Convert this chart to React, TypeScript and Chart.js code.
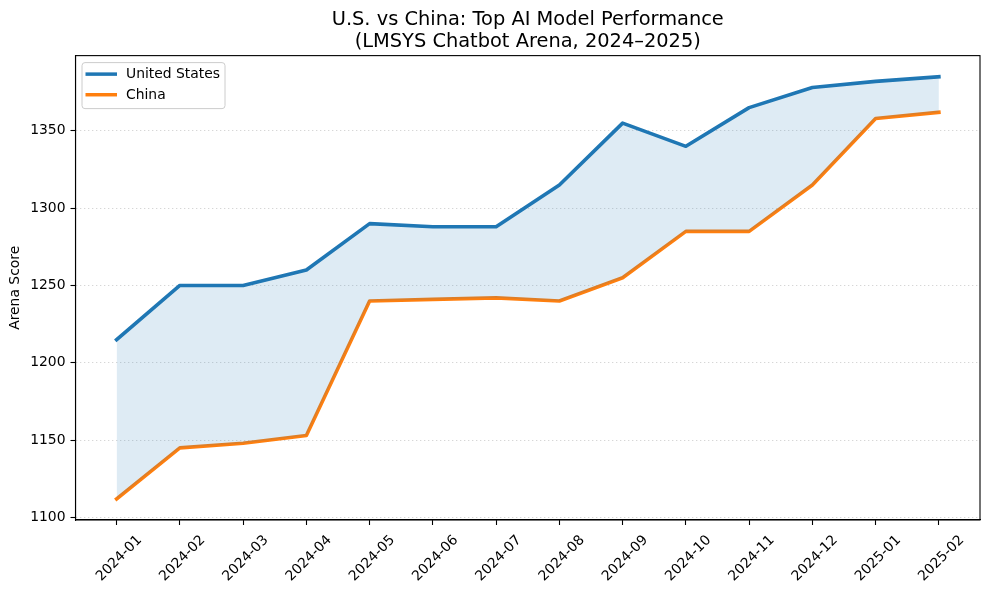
import React, { useEffect, useRef } from "react";
import { Chart, registerables } from "chart.js";

Chart.register(...registerables);

const months = [
  "2024-01", "2024-02", "2024-03", "2024-04", "2024-05", "2024-06", "2024-07",
  "2024-08", "2024-09", "2024-10", "2024-11", "2024-12", "2025-01", "2025-02",
];
const usScores = [1215, 1250, 1250, 1260, 1290, 1288, 1288, 1315, 1355, 1340, 1365, 1378, 1382, 1385];
const chinaScores = [1112, 1145, 1148, 1153, 1240, 1241, 1242, 1240, 1255, 1285, 1285, 1315, 1358, 1362];
const yTicks = [1100, 1150, 1200, 1250, 1300, 1350];
const seriesNames = ["United States", "China"];
const seriesColors = ["#1f77b4", "#ff7f0e"];
const titleLines = ["U.S. vs China: Top AI Model Performance", "(LMSYS Chatbot Arena, 2024\u20132025)"];
const yAxisTitle = "Arena Score";

const FONT = "'DejaVu Sans', Verdana, sans-serif";

const framePlugin = {
  id: "frameAndLegend",
  afterDraw(chart: any) {
    const { ctx, chartArea } = chart;
    const { left, top, right, bottom } = chartArea;
    ctx.save();
    // frame
    ctx.strokeStyle = "#000";
    ctx.lineWidth = 1.1;
    ctx.setLineDash([]);
    ctx.strokeRect(left, top, right - left, bottom - top);

    // legend
    const bx = left + 6.5;
    const by = top + 7;
    const bw = 143;
    const bh = 46;
    const r = 3;
    ctx.beginPath();
    ctx.moveTo(bx + r, by);
    ctx.lineTo(bx + bw - r, by);
    ctx.quadraticCurveTo(bx + bw, by, bx + bw, by + r);
    ctx.lineTo(bx + bw, by + bh - r);
    ctx.quadraticCurveTo(bx + bw, by + bh, bx + bw - r, by + bh);
    ctx.lineTo(bx + r, by + bh);
    ctx.quadraticCurveTo(bx, by + bh, bx, by + bh - r);
    ctx.lineTo(bx, by + r);
    ctx.quadraticCurveTo(bx, by, bx + r, by);
    ctx.closePath();
    ctx.fillStyle = "rgba(255,255,255,0.8)";
    ctx.fill();
    ctx.strokeStyle = "#cccccc";
    ctx.lineWidth = 1;
    ctx.stroke();

    seriesNames.forEach((name, i) => {
      const y = by + 11.5 + i * 20.6;
      ctx.beginPath();
      ctx.strokeStyle = seriesColors[i];
      ctx.lineWidth = 3.5;
      ctx.lineCap = "butt";
      ctx.moveTo(bx + 3.5, y);
      ctx.lineTo(bx + 35, y);
      ctx.stroke();
      ctx.fillStyle = "#000";
      ctx.font = `13.9px ${FONT}`;
      ctx.textBaseline = "middle";
      ctx.textAlign = "left";
      ctx.fillText(name, bx + 44, y + 0.5);
    });
    ctx.restore();
  },
};

export default function App() {
  const canvasRef = useRef<HTMLCanvasElement | null>(null);

  useEffect(() => {
    document.body.style.margin = "0";
    const canvas = canvasRef.current;
    if (!canvas) return;

    const allVals = [...usScores, ...chinaScores];
    const dMin = Math.min(...allVals);
    const dMax = Math.max(...allVals);
    const pad = (dMax - dMin) * 0.05;
    const xPad = (months.length - 1) * 0.05;

    const chart = new Chart(canvas, {
      type: "line",
      data: {
        datasets: [
          {
            label: seriesNames[0],
            data: usScores.map((v, i) => ({ x: i, y: v })),
            borderColor: seriesColors[0],
            backgroundColor: "rgba(31,119,180,0.15)",
            borderWidth: 3.6,
            pointRadius: 0,
            tension: 0,
            borderJoinStyle: "round",
            borderCapStyle: "square",
            fill: "+1",
          },
          {
            label: seriesNames[1],
            data: chinaScores.map((v, i) => ({ x: i, y: v })),
            borderColor: seriesColors[1],
            backgroundColor: "rgba(255,127,14,0.0)",
            borderWidth: 3.6,
            pointRadius: 0,
            tension: 0,
            borderJoinStyle: "round",
            borderCapStyle: "square",
            fill: false,
          },
        ],
      },
      options: {
        animation: false,
        responsive: true,
        maintainAspectRatio: false,
        layout: { padding: { left: 0, right: 9, top: 0, bottom: 0 } },
        plugins: {
          legend: { display: false },
          tooltip: { enabled: false },
          title: {
            display: true,
            text: titleLines,
            fullSize: false,
            color: "#000",
            font: { family: FONT, size: 19.4, weight: "normal", lineHeight: 1.15 },
            padding: { top: 8.5, bottom: 2.5 },
          },
        },
        scales: {
          x: {
            type: "linear",
            min: -xPad,
            max: months.length - 1 + xPad,
            afterBuildTicks: (scale: any) => {
              scale.ticks = months.map((_, i) => ({ value: i }));
            },
            afterFit: (scale: any) => {
              scale.height = 70;
            },
            ticks: {
              autoSkip: false,
              minRotation: 45,
              maxRotation: 45,
              color: "#000",
              font: { family: FONT, size: 13.9 },
              padding: 7,
              labelOffset: 23,
              callback: (v: any) => months[v] ?? "",
            },
            grid: {
              drawOnChartArea: false,
              drawTicks: true,
              tickLength: 5,
              tickColor: "#000",
              tickWidth: 1.1,
            },
            border: { display: true, color: "#000", width: 1.1 },
          },
          y: {
            type: "linear",
            min: dMin - pad,
            max: dMax + pad,
            afterBuildTicks: (scale: any) => {
              scale.ticks = yTicks.map((v) => ({ value: v }));
            },
            afterFit: (scale: any) => {
              scale.width = 75.5;
            },
            ticks: {
              color: "#000",
              font: { family: FONT, size: 13.9 },
              padding: 5,
              callback: (v: any) => String(v),
            },
            grid: {
              drawOnChartArea: true,
              drawTicks: true,
              tickLength: 5,
              color: "rgba(0,0,0,0.18)",
              lineWidth: 1,
              tickColor: "#000",
              tickWidth: 1.1,
              tickBorderDash: [],
            },
            border: { display: true, color: "#000", width: 1.1, dash: [1.2, 2.8] },
            title: {
              display: true,
              text: yAxisTitle,
              color: "#000",
              font: { family: FONT, size: 13.9 },
              padding: { top: 7.5, bottom: 0 },
            },
          },
        },
      },
      plugins: [framePlugin],
    } as any);

    return () => {
      chart.destroy();
    };
  }, []);

  return (
    <div style={{ position: "relative", width: 989, height: 590, background: "#fff" }}>
      <canvas ref={canvasRef} />
    </div>
  );
}
